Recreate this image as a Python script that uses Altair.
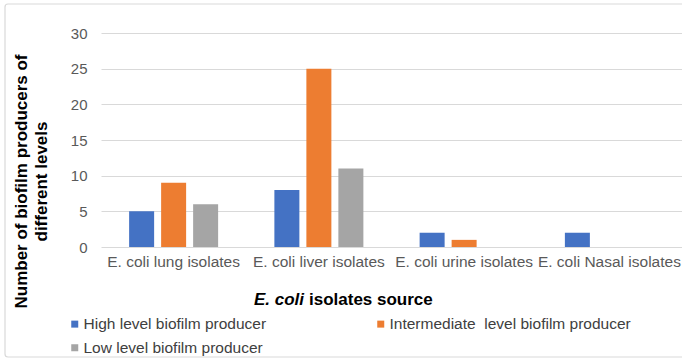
import altair as alt
import pandas as pd

# Biofilm producers per E. coli isolate source
sources = [
    "E. coli lung isolates",
    "E. coli liver isolates",
    "E. coli urine isolates",
    "E. coli Nasal isolates",
]
levels = [
    "High level biofilm producer",
    "Intermediate\u00a0 level biofilm producer",
    "Low level biofilm producer",
]
high = [5, 8, 2, 2]
intermediate = [9, 25, 1, 0]
low = [6, 11, 0, 0]
colors = ["#4472C4", "#ED7D31", "#A5A5A5"]
y_ticks = [0, 5, 10, 15, 20, 25, 30]

rows = []
for i, src in enumerate(sources):
    for lvl, vals in zip(levels, [high, intermediate, low]):
        rows.append({"source": src, "level": lvl, "count": vals[i]})
df = pd.DataFrame(rows)

FONT = "Liberation Sans"

bars = alt.Chart(df).mark_bar().encode(
    x=alt.X(
        "source:N",
        sort=sources,
        scale=alt.Scale(paddingInner=0, paddingOuter=0),
        axis=alt.Axis(
            title=None, labelAngle=0, ticks=False, tickSize=0, domain=False,
            labelPadding=7, labelFontSize=15.5, labelColor="#595959",
            labelFont=FONT, labelOverlap=False, labelLimit=0,
        ),
    ),
    xOffset=alt.XOffset(
        "level:N", sort=levels,
        scale=alt.Scale(paddingInner=0.21875, paddingOuter=0.879),
    ),
    y=alt.Y(
        "count:Q",
        scale=alt.Scale(domain=[0, 30], nice=False),
        axis=alt.Axis(
            values=y_ticks, grid=True, gridColor="#D9D9D9", gridWidth=1,
            domain=False, ticks=False, tickSize=0, labelPadding=14,
            labelFontSize=15, labelColor="#595959", labelFont=FONT,
            title=["Number of biofilm producers of", "different levels"],
            titleFont=FONT, titleFontSize=17, titleFontWeight="bold",
            titleColor="#000000", titleAngle=270, titleAlign="center",
            titleBaseline="middle", titleLineHeight=20,
            titleX=-80, titleY=148,
        ),
    ),
    color=alt.Color(
        "level:N",
        sort=levels,
        scale=alt.Scale(domain=levels, range=colors),
        legend=alt.Legend(
            title=None, orient="none", direction="horizontal",
            legendX=-34, legendY=283,
            columns=2, columnPadding=106, rowPadding=7,
            symbolType="square", symbolSize=49, symbolStrokeWidth=0,
            labelFontSize=15.5, labelFont=FONT, labelColor="#404040",
            labelOffset=1, labelLimit=0, padding=0,
        ),
    ),
)

# X axis title with the italic genus name
title_italic = alt.Chart(pd.DataFrame({"t": ["E. coli"]})).mark_text(
    align="left", baseline="alphabetic", font=FONT, fontSize=17,
    fontWeight="bold", fontStyle="italic", color="#000000",
).encode(text="t:N", x=alt.value(153), y=alt.value(272))

title_rest = alt.Chart(pd.DataFrame({"t": ["isolates source"]})).mark_text(
    align="left", baseline="alphabetic", font=FONT, fontSize=17,
    fontWeight="bold", color="#000000",
).encode(text="t:N", x=alt.value(208), y=alt.value(272))

# Light frame around the whole chart
frame = alt.Chart(pd.DataFrame({"f": [0]})).mark_rect(
    fill=None, stroke="#D9D9D9", strokeWidth=1.2, cornerRadius=3,
).encode(
    x=alt.value(-96), x2=alt.value(600),
    y=alt.value(-29), y2=alt.value(324),
)

chart = alt.layer(frame, bars, title_italic, title_rest).properties(
    width=581,
    height=214,
    autosize=alt.AutoSizeParams(type="none"),
    padding={"left": 101, "top": 33, "right": 0, "bottom": 111},
    background="white",
).configure_view(stroke=None)

chart.save("out.html", embed_options={"renderer": "svg", "actions": False})
